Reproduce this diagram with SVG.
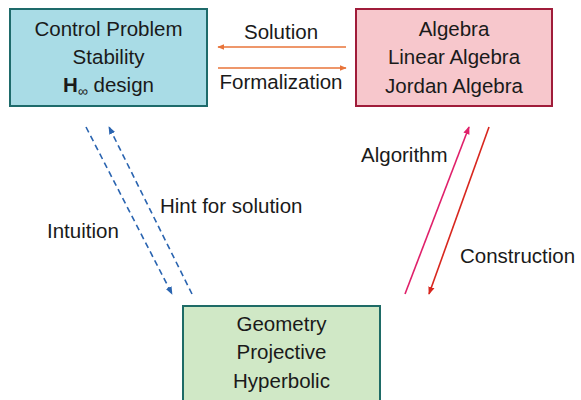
<svg xmlns="http://www.w3.org/2000/svg" width="581" height="400" viewBox="0 0 581 400">
<defs>
<style>
text{font-family:"Liberation Sans",Arial,sans-serif;font-size:20.5px;fill:#1a1a1a}
.c{text-anchor:middle}
.box{stroke-width:2}
</style>
<marker id="ao" viewBox="0 0 10 10" refX="9" refY="5" markerWidth="7" markerHeight="7" markerUnits="userSpaceOnUse" orient="auto"><path d="M0,1 L10,5 L0,9 Z" fill="#e8743a"/></marker>
<marker id="ab" viewBox="0 0 10 10" refX="9" refY="5" markerWidth="8" markerHeight="8" markerUnits="userSpaceOnUse" orient="auto"><path d="M0,1 L10,5 L0,9 Z" fill="#2a64b0"/></marker>
<marker id="ap" viewBox="0 0 10 10" refX="9" refY="5" markerWidth="8" markerHeight="8" markerUnits="userSpaceOnUse" orient="auto"><path d="M0,1 L10,5 L0,9 Z" fill="#e0206a"/></marker>
<marker id="ar" viewBox="0 0 10 10" refX="9" refY="5" markerWidth="8" markerHeight="8" markerUnits="userSpaceOnUse" orient="auto"><path d="M0,1 L10,5 L0,9 Z" fill="#d8261e"/></marker>
</defs>
<rect width="581" height="400" fill="#fff"/>
<g id="control">
<rect class="box" x="10" y="9" width="197" height="97" fill="#a9dce6" stroke="#1e6b6b"/>
<text class="c" x="108.5" y="35.5">Control Problem</text>
<text class="c" x="108.5" y="63.5">Stability</text>
<text class="c" x="108.5" y="91.5"><tspan font-weight="bold">H</tspan><tspan font-size="14" dy="4">∞</tspan><tspan dy="-4"> design</tspan></text>
</g>
<g id="algebra">
<rect class="box" x="356" y="9" width="196" height="97" fill="#f7c7cc" stroke="#a01c3a"/>
<text class="c" x="454" y="35.5">Algebra</text>
<text class="c" x="454" y="64">Linear Algebra</text>
<text class="c" x="454" y="92.5">Jordan Algebra</text>
</g>
<g id="geometry">
<rect class="box" x="183" y="306" width="197" height="100" fill="#d0e8c6" stroke="#1e6b66"/>
<text class="c" x="281.5" y="330.5">Geometry</text>
<text class="c" x="281.5" y="359">Projective</text>
<text class="c" x="281.5" y="387.5">Hyperbolic</text>
</g>
<g id="connectors" fill="none" stroke-width="1.6">
<line x1="346" y1="47" x2="218" y2="47" stroke="#e8743a" marker-end="url(#ao)"/>
<line x1="218" y1="68" x2="346" y2="68" stroke="#e8743a" marker-end="url(#ao)"/>
<line x1="86" y1="127" x2="172" y2="294" stroke="#2a64b0" stroke-dasharray="6,4" marker-end="url(#ab)"/>
<line x1="192" y1="294" x2="109" y2="127" stroke="#2a64b0" stroke-dasharray="6,4" marker-end="url(#ab)"/>
<line x1="405" y1="294" x2="469" y2="127" stroke="#e0206a" marker-end="url(#ap)"/>
<line x1="489" y1="127" x2="429" y2="294" stroke="#d8261e" marker-end="url(#ar)"/>
</g>
<g id="labels">
<text class="c" x="281" y="38.5">Solution</text>
<text class="c" x="281" y="88.5">Formalization</text>
<text x="47" y="238">Intuition</text>
<text x="160" y="213">Hint for solution</text>
<text x="361" y="162">Algorithm</text>
<text x="460" y="263">Construction</text>
</g>
</svg>
